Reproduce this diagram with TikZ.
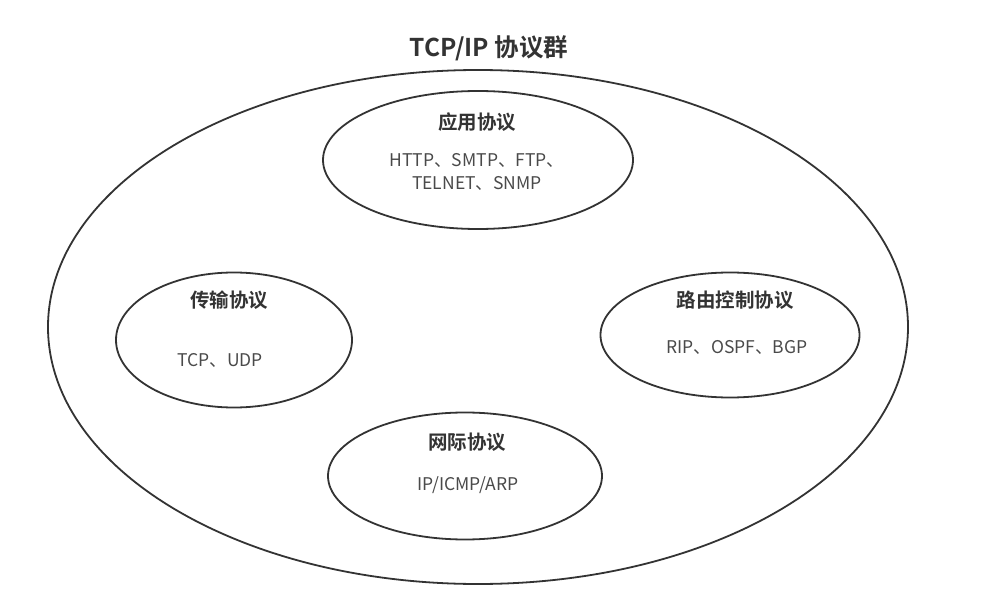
\documentclass[tikz,border=0pt]{standalone}
\usepackage{fontspec}
\setmainfont{Noto Sans CJK SC}[BoldFont={Noto Sans CJK SC Bold}]
\usetikzlibrary{shapes.geometric}
\definecolor{linec}{HTML}{333333}
\definecolor{headc}{HTML}{333333}
\definecolor{bodyc}{HTML}{4A4A4A}
\begin{document}
\begin{tikzpicture}[x=1pt,y=-1pt,
  oval/.style={draw=linec, line width=1.8pt, ellipse, inner sep=0pt, outer sep=0pt},
  head/.style={font=\fontsize{19.5}{22}\selectfont\bfseries, text=headc, inner sep=0pt},
  body/.style={font=\fontsize{17.5}{23.5}\selectfont, text=bodyc, inner sep=0pt, align=center},
  titlestyle/.style={font=\fontsize{24.5}{28}\selectfont\bfseries, text=headc, inner sep=0pt}]
\useasboundingbox[fill=white] (0,0) rectangle (986,607);
\node[titlestyle] (title) at (489,48) {TCP/IP 协议群};
\node[oval, minimum width=860pt, minimum height=514pt] (group) at (478,327) {};
\node[oval, minimum width=310pt, minimum height=138pt] (app) at (478,160) {};
\node[oval, minimum width=236pt, minimum height=135pt] (trans) at (234,340) {};
\node[oval, minimum width=259pt, minimum height=125pt] (route) at (730,335) {};
\node[oval, minimum width=274pt, minimum height=127pt] (inet) at (465,476) {};
\node[head] (apph) at (477,122) {应用协议};
\node[body] (appb) at (477,172) {HTTP、SMTP、FTP、\\TELNET、SNMP};
\node[head] (transh) at (229,300) {传输协议};
\node[body] (transb) at (220,360) {TCP、UDP};
\node[head] (routeh) at (735,300) {路由控制协议};
\node[body] (routeb) at (737,347) {RIP、OSPF、BGP};
\node[head] (ineth) at (467,442) {网际协议};
\node[body] (inetb) at (468,485) {IP/ICMP/ARP};
\end{tikzpicture}
\end{document}
